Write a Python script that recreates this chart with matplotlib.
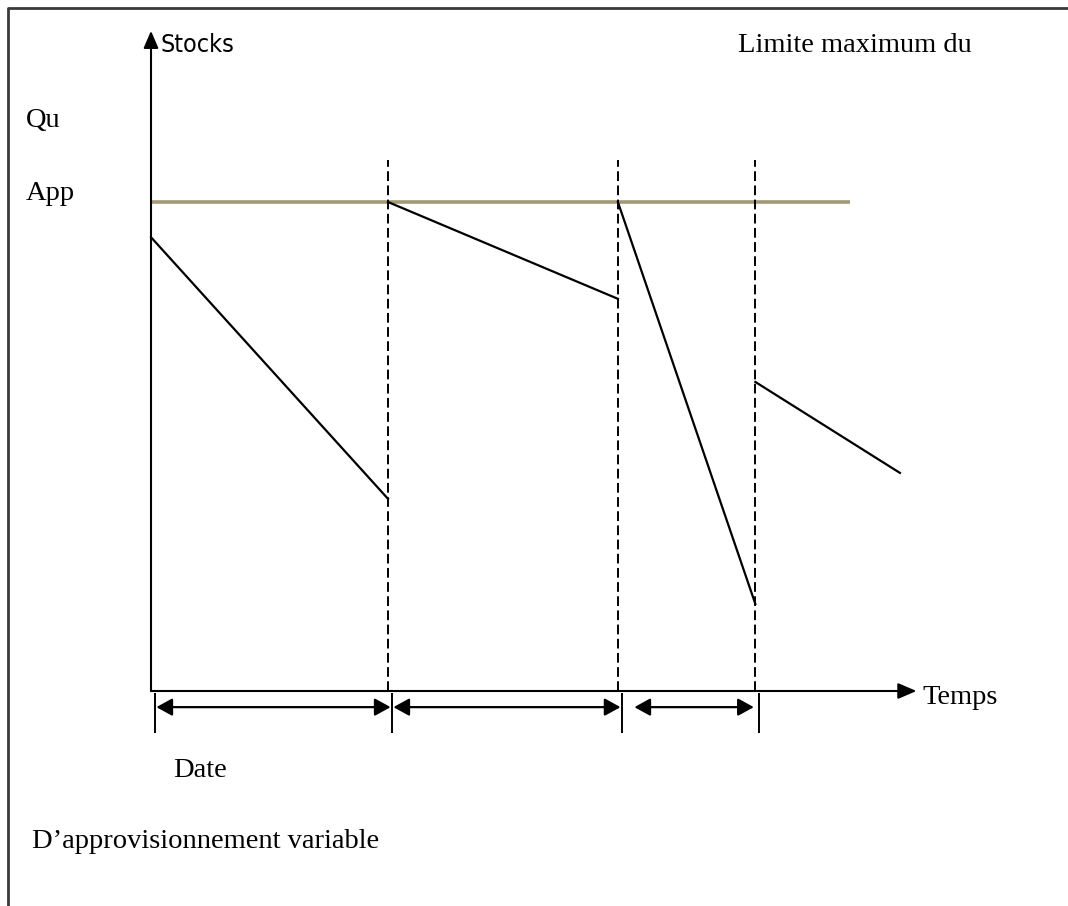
import matplotlib
matplotlib.use("Agg")
import matplotlib.pyplot as plt

W, H, DPI = 1068, 906, 100

# stock diagram: each replenishment cycle starts at a date and falls linearly
dates = [0.0, 10.0, 19.7, 25.5]              # supply dates (time units)
cycle_end = [10.0, 19.7, 25.5, 31.6]
stock_start = [92.8, 100.0, 100.0, 63.2]
stock_end = [39.3, 80.2, 17.8, 44.6]
max_level = 100.0                             # "Limite maximum du Qu App"
max_line_end = 29.5
axis_end_t = 32.3
axis_end_s = 135.0
dash_top = 108.6

labels_left = ["Qu", "App"]
title_right = "Limite maximum du"
y_label = "Stocks"
x_label = "Temps"
foot1 = "Date"
foot2 = "D\u2019approvisionnement variable"

INK = "#000000"
TAN = "#a39873"
FRAME = "#3a3a3a"
SERIF = ["Liberation Serif", "DejaVu Serif"]

plt.rcParams["lines.scale_dashes"] = False

fig = plt.figure(figsize=(W / DPI, H / DPI), dpi=DPI)
fig.patch.set_facecolor("white")
ax = fig.add_axes([0, 0, 1, 1])
ax.axis("off")

# scale: origin of the diagram at pixel (151, 691); 23.7 px per time unit, 4.89 px per stock unit
PX_T, PX_S = 23.7, 4.89
ax.set_xlim(-151 / PX_T, (W - 151) / PX_T)
ax.set_ylim(-(H - 691) / PX_S, 691 / PX_S)


def px(x, y):
    return x / W, 1 - y / H


# frame around the picture
ax.plot([px(8, 0)[0], px(8, 0)[0], 1.0], [0.0, px(0, 8)[1], px(0, 8)[1]],
        transform=ax.transAxes, color=FRAME, lw=2.0, clip_on=False)

# axes with arrow heads
ax.annotate("", xy=(0, axis_end_s), xytext=(0, 0),
            arrowprops=dict(arrowstyle="-|>,head_length=0.65,head_width=0.28",
                            color=INK, lw=1.5, shrinkA=0, shrinkB=0,
                            mutation_scale=16))
ax.annotate("", xy=(axis_end_t, 0), xytext=(0, 0),
            arrowprops=dict(arrowstyle="-|>,head_length=0.7,head_width=0.3",
                            color=INK, lw=1.5, shrinkA=0, shrinkB=0,
                            mutation_scale=16))

# maximum level
ax.plot([0, max_line_end], [max_level, max_level], color=TAN, lw=2.6,
        solid_capstyle="butt", zorder=2)

# dashed supply dates
ax.vlines(dates[1:], 0, dash_top, colors=INK, lw=1.4,
          linestyles=[(0, (7, 3.2))], zorder=3)

# stock consumption segments
for t0, t1, s0, s1 in zip(dates, cycle_end, stock_start, stock_end):
    ax.plot([t0, t1], [s0, s1], color=INK, lw=1.6, zorder=4)

# interval brackets under the time axis
off = 4 / PX_T
ticks = [d + off for d in dates]
tick_top, tick_bot, arr_y = -0.4, -8.6, -3.3
ax.vlines(ticks, tick_bot, tick_top, colors=INK, lw=1.4)
shrinks = [(1, 1), (1, 1), (9, 4)]
for a, b, (sa, sb) in zip(ticks[:-1], ticks[1:], shrinks):
    ax.annotate("", xy=(b, arr_y), xytext=(a, arr_y),
                arrowprops=dict(arrowstyle="<|-|>,head_length=0.6,head_width=0.33",
                                color=INK, lw=1.6, shrinkA=sa, shrinkB=sb,
                                mutation_scale=16))

# texts
ax.text(*px(160, 52), y_label, transform=ax.transAxes, fontsize=18,
        family="DejaVu Sans", fontstretch="condensed", va="baseline", ha="left")
ax.text(*px(738, 52), title_right, transform=ax.transAxes, fontsize=20.5,
        family=SERIF, va="baseline", ha="left")
ax.text(*px(26, 127), labels_left[0], transform=ax.transAxes, fontsize=20.5,
        family=SERIF, va="baseline", ha="left")
ax.text(*px(26, 200), labels_left[1], transform=ax.transAxes, fontsize=20.5,
        family=SERIF, va="baseline", ha="left")
ax.text(*px(922, 704), x_label, transform=ax.transAxes, fontsize=20.5,
        family=SERIF, va="baseline", ha="left")
ax.text(*px(173, 777), foot1, transform=ax.transAxes, fontsize=20.5,
        family=SERIF, va="baseline", ha="left")
ax.text(*px(32, 848), foot2, transform=ax.transAxes, fontsize=20.5,
        family=SERIF, va="baseline", ha="left")

fig.savefig("out.png", dpi=DPI)
